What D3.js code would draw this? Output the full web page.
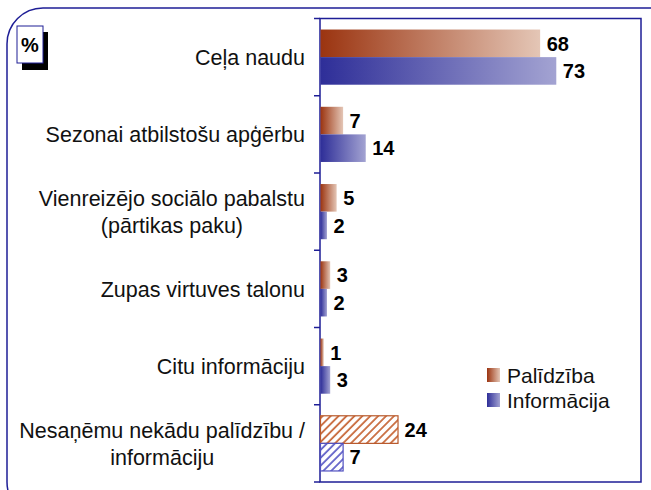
<!DOCTYPE html>
<html>
<head>
<meta charset="utf-8">
<script src="https://cdn.jsdelivr.net/npm/d3@7"></script>
<style>
  body { margin: 0; background: #fff; }
  text { font-family: "Liberation Sans", Arial, sans-serif; }
</style>
</head>
<body>
<svg id="chart" width="651" height="490"></svg>
<script>
var categories = ["Ceļa naudu ", "Sezonai atbilstošu apģērbu", "Vienreizējo sociālo pabalstu\n(pārtikas paku)",
                  "Zupas virtuves talonu", "Citu informāciju", "Nesaņēmu nekādu palīdzību /\ninformāciju"];
var palidziba = [68, 7, 5, 3, 1, 24];
var informacija = [73, 14, 2, 2, 3, 7];
var seriesNames = ["Palīdzība", "Informācija"];

var frameBlue = '#1e1e96';
var plotLeft = 320, plotRight = 641, plotTop = 18.5, plotBottom = 482;

var svg = d3.select('#chart');
var defs = svg.append('defs');

function gradient(id, from, to){
    var g = defs.append('linearGradient').attr('id', id).attr('x1', '0%').attr('x2', '100%').attr('y1', '0%').attr('y2', '0%');
    g.append('stop').attr('offset', '0%').attr('stop-color', from);
    g.append('stop').attr('offset', '100%').attr('stop-color', to);
}
gradient('gradRed', '#9b3410', '#e4c6b6');
gradient('gradBlue', '#2e2e98', '#a3a3d2');

function hatch(id, colour){
    var p = defs.append('pattern').attr('id', id).attr('patternUnits', 'userSpaceOnUse')
        .attr('width', 5.6).attr('height', 5.6).attr('patternTransform', 'rotate(45)');
    p.append('rect').attr('width', 5.6).attr('height', 5.6).attr('fill', '#fff');
    p.append('line').attr('x1', 1).attr('y1', 0).attr('x2', 1).attr('y2', 5.6)
        .attr('stroke', colour).attr('stroke-width', 1.8);
}
hatch('hatchRed', '#c86a3c');
hatch('hatchBlue', '#6262c8');

// outer rounded frame (runs off the picture at right and bottom)
svg.append('rect').attr('x', 7).attr('y', 8).attr('width', 680).attr('height', 510)
    .attr('rx', 36).attr('ry', 36).attr('fill', 'none').attr('stroke', frameBlue).attr('stroke-width', 1.5);

var x = d3.scaleLinear().domain([0, 100]).range([plotLeft, plotLeft + 323]);
var y = d3.scaleBand().domain(categories).range([plotTop, plotBottom]);
var sub = d3.scaleBand().domain([0, 1]).range([0, y.bandwidth()]).paddingInner(0).paddingOuter(0.4);

// plot frame
svg.append('rect').attr('x', plotLeft).attr('y', plotTop).attr('width', plotRight - plotLeft).attr('height', plotBottom - plotTop)
    .attr('fill', 'none').attr('stroke', frameBlue).attr('stroke-width', 1.5);

// category boundary ticks
var bounds = categories.map(function(c){ return y(c); }).concat([plotBottom]);
svg.selectAll('line.tick').data(bounds).enter().append('line')
    .attr('x1', plotLeft - 6).attr('x2', plotLeft).attr('y1', function(d){ return d; }).attr('y2', function(d){ return d; })
    .attr('stroke', frameBlue).attr('stroke-width', 1.5);

var rows = categories.map(function(c, i){ return {cat: c, vals: [palidziba[i], informacija[i]], last: i === categories.length - 1}; });

var groups = svg.selectAll('g.row').data(rows).enter().append('g').attr('class', 'row')
    .attr('transform', function(d){ return 'translate(0,' + y(d.cat) + ')'; });

groups.selectAll('rect').data(function(d){ return d.vals.map(function(v, k){ return {v: v, k: k, last: d.last}; }); })
    .enter().append('rect')
    .attr('x', x(0) + 0.5)
    .attr('y', function(d){ return sub(d.k); })
    .attr('width', function(d){ return x(d.v) - x(0); })
    .attr('height', sub.bandwidth())
    .attr('fill', function(d){
        if (d.last) return d.k === 0 ? 'url(#hatchRed)' : 'url(#hatchBlue)';
        return d.k === 0 ? 'url(#gradRed)' : 'url(#gradBlue)';
    })
    .attr('stroke', function(d){ return d.last ? (d.k === 0 ? '#b8582a' : '#5050c0') : 'none'; })
    .attr('stroke-width', 1.2);

groups.selectAll('text.val').data(function(d){ return d.vals.map(function(v, k){ return {v: v, k: k}; }); })
    .enter().append('text').attr('class', 'val')
    .attr('x', function(d){ return x(d.v) + 7; })
    .attr('y', function(d){ return sub(d.k) + sub.bandwidth() / 2; })
    .attr('dy', '0.36em')
    .attr('font-size', 20).attr('font-weight', 'bold').attr('fill', '#000')
    .text(function(d){ return d.v; });

// category labels: block right-aligned, lines centred inside block
var labelRight = 305;
rows.forEach(function(r){
    var lines = r.cat.split('\n');
    var g = svg.append('g');
    var texts = lines.map(function(l, i){
        return g.append('text').attr('font-size', 21.5).attr('fill', '#111').attr('text-anchor', 'middle')
            .attr('y', y(r.cat) + y.bandwidth() / 2 + (i - (lines.length - 1) / 2) * 27)
            .attr('dy', '0.36em').text(l);
    });
    var w = d3.max(texts, function(t){ return t.node().getComputedTextLength(); });
    texts.forEach(function(t){ t.attr('x', labelRight - w / 2); });
});

// legend
var legend = svg.selectAll('g.legend').data(seriesNames).enter().append('g')
    .attr('transform', function(d, i){ return 'translate(487,' + (368 + i * 25) + ')'; });
legend.append('rect').attr('width', 13).attr('height', 14)
    .attr('fill', function(d, i){ return i === 0 ? 'url(#gradRed)' : 'url(#gradBlue)'; });
legend.append('text').attr('x', 20).attr('y', 7).attr('dy', '0.36em').attr('font-size', 21).attr('fill', '#111')
    .text(function(d){ return d; });

// "%" box with shadow
svg.append('rect').attr('x', 22).attr('y', 32).attr('width', 26).attr('height', 38).attr('fill', '#000');
svg.append('rect').attr('x', 17).attr('y', 26).attr('width', 26).attr('height', 37).attr('fill', '#fff')
    .attr('stroke', frameBlue).attr('stroke-width', 1);
svg.append('text').attr('x', 30).attr('y', 52).attr('text-anchor', 'middle')
    .attr('font-size', 20).attr('font-weight', 'bold').text('%');
</script>
</body>
</html>
